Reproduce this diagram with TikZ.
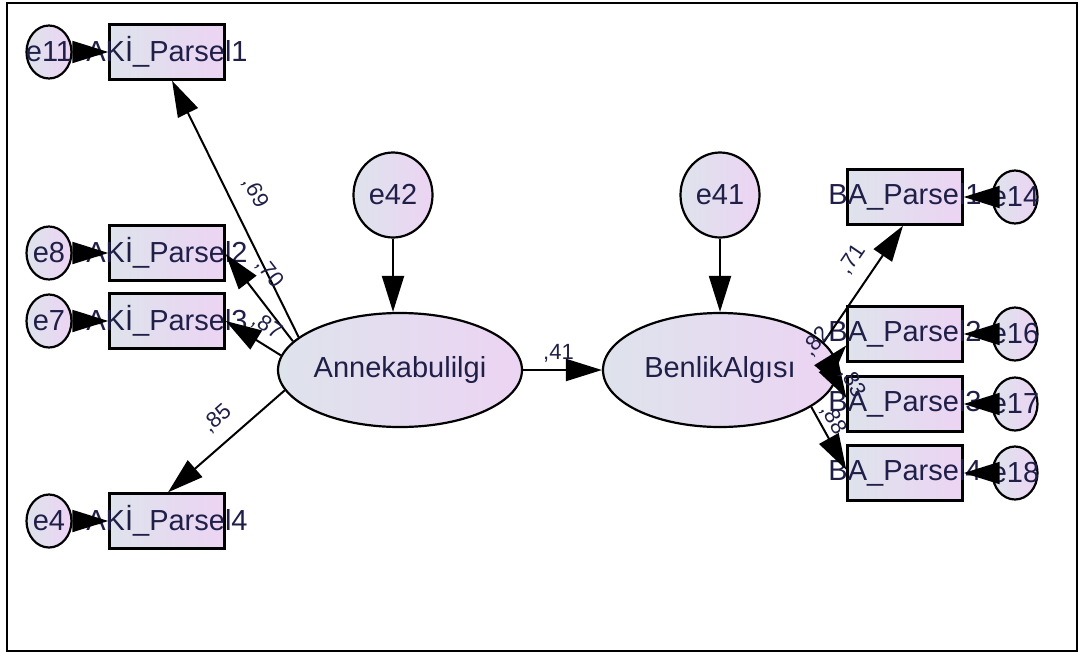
\documentclass[tikz,border=0pt]{standalone}
\usepackage{fontspec}
\setmainfont{Liberation Sans}
\usepackage{tikz}
\usepackage{xcolor}
\usetikzlibrary{shapes.geometric}
\usetikzlibrary{arrows.meta}
\usetikzlibrary{calc}
\definecolor{amostext}{HTML}{1F1F48}
\definecolor{shadeleft}{HTML}{DEE3EC}
\definecolor{shaderight}{HTML}{ECD4F3}
\newcommand{\wide}[1]{\makebox[0pt]{#1}}

\begin{document}
\begin{tikzpicture}[x=1pt,y=-1pt,->,>={Triangle[length=36pt,width=22pt]},line width=2pt,
every node/.style={text=amostext},
	latent/.style={draw=black, line width=2.2pt, ellipse, left color=shadeleft, right color=shaderight, minimum width=234, minimum height=114, inner sep=0pt, font=\fontsize{29}{34}\selectfont},
	obs/.style={draw=black, line width=2.4pt, rectangle, left color=shadeleft, right color=shaderight, minimum width=115, minimum height=55, inner sep=0pt, font=\fontsize{29}{34}\selectfont},
	err/.style={draw=black, line width=2.2pt, ellipse, left color=shadeleft, right color=shaderight, minimum width=45, minimum height=53, inner sep=0pt, font=\fontsize{29}{34}\selectfont},
	bigerr/.style={err, minimum width=79, minimum height=85},
	lab/.style={inner sep=3pt, font=\fontsize{22}{25}\selectfont}]

\useasboundingbox (0,0) rectangle (1083,654);
\draw[-,line width=2pt] (7,3) rectangle (1077,651);

% Define the spacing of the indicator columns.
\def\leftx{167}
\def\rightx{905}
\def\errgap{116}

\node[obs] (aki1) at (\leftx,52) {\wide{AKİ\_Parsel1}};
\node[obs] (aki2) at (\leftx,253) {\wide{AKİ\_Parsel2}};
\node[obs] (aki3) at (\leftx,321) {\wide{AKİ\_Parsel3}};
\node[obs] (aki4) at (\leftx,521) {\wide{AKİ\_Parsel4}};

\node[err] (e11) at (\leftx-\errgap-2,52) {\wide{e11}};
\node[err] (e8) at (\leftx-\errgap-2,253) {\wide{e8}};
\node[err] (e7) at (\leftx-\errgap-2,321) {\wide{e7}};
\node[err] (e4) at (\leftx-\errgap-2,521) {\wide{e4}};

\node[obs] (ba1) at (\rightx,197) {\wide{BA\_Parsel1}};
\node[obs] (ba2) at (\rightx,334) {\wide{BA\_Parsel2}};
\node[obs] (ba3) at (\rightx,404) {\wide{BA\_Parsel3}};
\node[obs] (ba4) at (\rightx,473) {\wide{BA\_Parsel4}};

\node[err] (e14) at (\rightx+\errgap-6,197) {\wide{e14}};
\node[err] (e16) at (\rightx+\errgap-6,334) {\wide{e16}};
\node[err] (e17) at (\rightx+\errgap-6,404) {\wide{e17}};
\node[err] (e18) at (\rightx+\errgap-6,473) {\wide{e18}};

\node[latent] (anne) at (400,370) {Annekabulilgi};
\node[latent] (benlik) at (720,370) {BenlikAlgısı};
\node[bigerr] (e42) at (393,195) {e42};
\node[bigerr] (e41) at (720,195) {e41};

% Structural part
\draw (e42) -- (e42 |- anne.north);
\draw (e41) -- (benlik);
\draw (anne.east) -- node[lab, above=4pt, xshift=-4pt] {,41} (benlik.west);

% Loadings
\draw (anne.162) -- node[lab, sloped, above=12pt, pos=0.52] {,69} (aki1.-80);
\draw (anne.165) -- node[lab, sloped, above=10pt, pos=0.62] {,70} (aki2.-1);
\draw (anne.173) -- node[lab, sloped, above=4pt, pos=0.42] {,87} (aki3.0);
\draw (anne.190) -- node[lab, sloped, above=10pt, pos=0.45] {,85} (aki4.88);

\draw (benlik.15) -- node[lab, sloped, above=10pt, pos=0.6] {,71} (ba1.-94);
\draw (benlik.6) -- node[lab, sloped, above=12pt, pos=0] {,82} (ba2.191);
\draw (benlik.-5) -- node[lab, sloped, above, pos=0.5] {,83} (ba3.174);
\draw (benlik.-22) -- node[lab, sloped, above, pos=0.3] {,88} (ba4.177);

% Error terms
\foreach \e/\p in {e11/aki1, e8/aki2, e7/aki3, e4/aki4, e14/ba1, e16/ba2, e17/ba3, e18/ba4}{
	\draw (\e) -- (\p);
}

\end{tikzpicture}
\end{document}
